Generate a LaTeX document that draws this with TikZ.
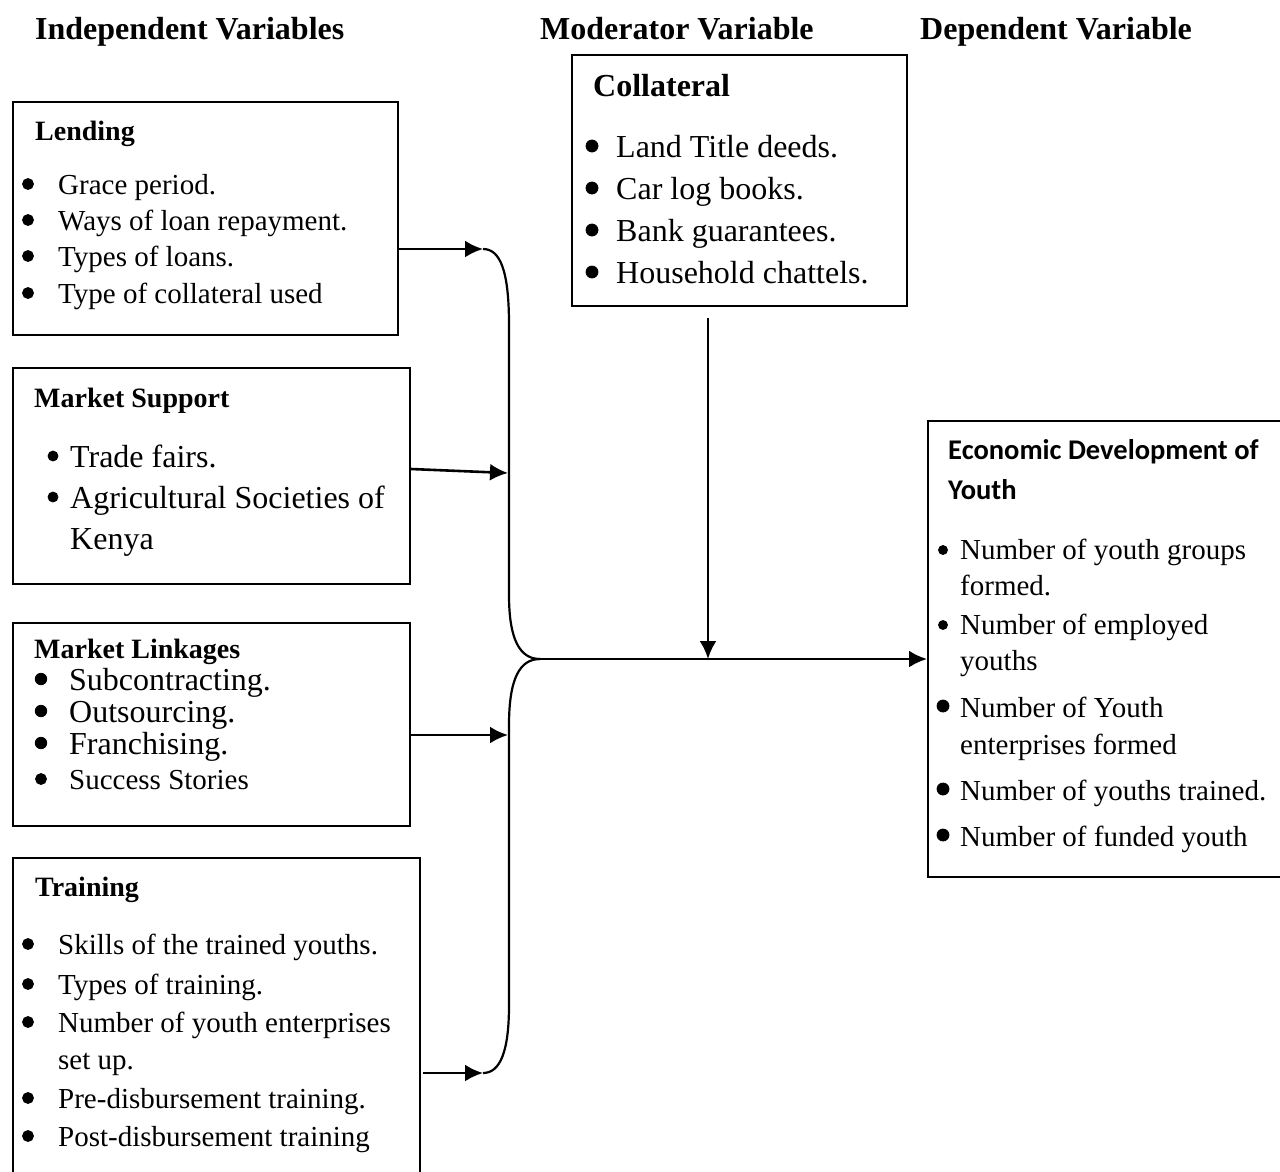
\documentclass[tikz,border=0pt]{standalone}
\usepackage{fontspec}
\setmainfont{Liberation Serif}
\newfontfamily\calibrifont{Carlito}
\usetikzlibrary{arrows.meta}
\begin{document}
\begin{tikzpicture}[x=1pt,y=-1pt,
 box/.style={draw, line width=2pt, inner sep=0pt, anchor=north west},
 hdr/.style={anchor=base west, inner sep=0pt, font=\fontsize{32}{38}\selectfont\bfseries},
 ttl/.style={anchor=base west, inner sep=0pt, font=\fontsize{28}{34}\selectfont\bfseries},
 ttlb/.style={anchor=base west, inner sep=0pt, font=\fontsize{32}{38}\selectfont\bfseries},
 itm/.style={anchor=base west, inner sep=0pt, font=\fontsize{29}{35}\selectfont},
 itmb/.style={anchor=base west, inner sep=0pt, font=\fontsize{32}{38}\selectfont},
 bul/.style={circle, fill, draw, line width=0.8pt, inner sep=0pt, minimum size=11pt},
 arr/.style={line width=2.6pt, -{Latex[length=18pt,width=17pt]}},
 crv/.style={line width=2.2pt}]
\useasboundingbox (0,0) rectangle (1280,1171);

% headers
\node[hdr] (h1) at (35,39) {Independent Variables};
\node[hdr] (h2) at (540,39) {Moderator Variable};
\node[hdr] (h3) at (920,39) {Dependent Variable};

% Lending
\node[box, minimum width=385pt, minimum height=233pt] (lending) at (12,101) {};
\node[ttl] (lendt) at (35,140) {Lending};
\foreach \y/\t [count=\i] in {194/Grace period., 230/Ways of loan repayment., 266/Types of loans., 303/Type of collateral used}{
  \node[bul] (lendb\i) at (28,\y-10) {};
  \node[itm] (lendi\i) at (58,\y) {\t};
}

% Market Support
\node[box, minimum width=397pt, minimum height=216pt] (msup) at (12,367) {};
\node[ttl] (msupt) at (34,407) {Market Support};
\node[bul, minimum size=10pt] (msupb1) at (53,467-11) {};
\node[itmb] (msupi1) at (70,467) {Trade fairs.};
\node[bul, minimum size=10pt] (msupb2) at (53,508-11) {};
\node[itmb] (msupi2) at (70,508) {Agricultural Societies of};
\node[itmb] (msupi3) at (70,549) {Kenya};

% Market Linkages
\node[box, minimum width=397pt, minimum height=203pt] (mlink) at (12,622) {};
\node[ttl] (mlinkt) at (34,658) {Market Linkages};
\foreach \y/\t [count=\i] in {690/Subcontracting., 722/Outsourcing., 754/Franchising.}{
  \node[bul, minimum size=11.5pt] (mlinkb\i) at (41,\y-11) {};
  \node[itmb] (mlinki\i) at (69,\y) {\t};
}
\node[bul] (mlinkb4) at (41,789-10) {};
\node[itm] (mlinki4) at (69,789) {Success Stories};

% Training
\node[box, minimum width=407pt, minimum height=330pt] (train) at (12,857) {};
\node[ttl] (traint) at (35,896) {Training};
\foreach \y/\t [count=\i] in {954/Skills of the trained youths., 994/Types of training., 1032/Number of youth enterprises, 1108/Pre-disbursement training., 1146/Post-disbursement training}{
  \node[bul] (trainb\i) at (28,\y-10) {};
  \node[itm] (traini\i) at (58,\y) {\t};
}
\node[itm] (traini6) at (58,1069) {set up.};

% Collateral
\node[box, minimum width=335pt, minimum height=251pt] (coll) at (571,54) {};
\node[ttlb] (collt) at (593,96) {Collateral};
\foreach \y/\t [count=\i] in {157/Land Title deeds., 199/Car log books., 241/Bank guarantees., 283/Household chattels.}{
  \node[bul, minimum size=12pt] (collb\i) at (592,\y-11) {};
  \node[itmb] (colli\i) at (616,\y) {\t};
}

% Economic development
\node[box, minimum width=360pt, minimum height=456pt] (econ) at (927,420) {};
\node[anchor=base west, inner sep=0pt, font=\fontsize{28.5}{33}\calibrifont\bfseries] (econt1) at (948,459) {Economic Development of};
\node[anchor=base west, inner sep=0pt, font=\fontsize{28.5}{33}\calibrifont\bfseries] (econt2) at (948,499) {Youth};
\node[bul, minimum size=9pt] (econb1) at (943,559-9) {};
\node[itm] (econi1) at (960,559) {Number of youth groups};
\node[itm] (econi2) at (960,595) {formed.};
\node[bul, minimum size=9pt] (econb2) at (943,634-9) {};
\node[itm] (econi3) at (960,634) {Number of employed};
\node[itm] (econi4) at (960,670) {youths};
\node[bul, minimum size=12pt] (econb3) at (943,717-11) {};
\node[itm] (econi5) at (960,717) {Number of Youth};
\node[itm] (econi6) at (960,754) {enterprises formed};
\node[bul, minimum size=12pt] (econb4) at (943,800-11) {};
\node[itm] (econi7) at (960,800) {Number of youths trained.};
\node[bul, minimum size=12pt] (econb5) at (943,846-11) {};
\node[itm] (econi8) at (960,846) {Number of funded youth};

% connectors
\coordinate (j1) at (483,249);
\coordinate (j2) at (508,473);
\coordinate (j3) at (508,735);
\coordinate (j4) at (483,1073);
\coordinate (hub) at (540,659);
\coordinate (cin) at (708,659);
\coordinate (cstart) at (708,318);

\draw[arr] (lending.east |- j1) -- (j1);
\draw[arr] (msup.east |- 0,469) -- (j2);
\draw[arr] (mlink.east |- j3) -- (j3);
\draw[arr] ([xshift=2pt]train.east |- j4) -- (j4);

\draw[crv] (j1) .. controls (500,249) and (509,270) .. (509,325) -- (509,595) .. controls (509,640) and (520,659) .. (hub);
\draw[crv] (hub) .. controls (520,659) and (509,678) .. (509,725) -- (509,1005) .. controls (509,1052) and (500,1073) .. (j4);

\draw[line width=2.6pt] (hub) -- (cin);
\draw[arr] (cin) -- (econ.west |- cin);
\draw[arr] (cstart) -- (cin);
\end{tikzpicture}
\end{document}
